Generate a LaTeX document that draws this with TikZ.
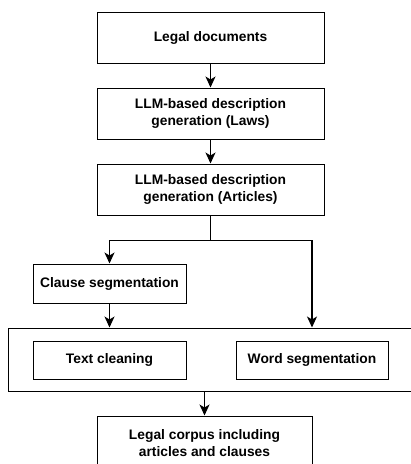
\documentclass[tikz,border=0pt]{standalone}
\usepackage{fontspec}
\setmainfont{Liberation Sans}
\usepackage{tikz}
\usetikzlibrary{arrows.meta,positioning}
\tikzstyle{block} = [draw,line width=1pt,inner sep=0pt,align=center,font=\bfseries\fontsize{13.8}{17.5}\selectfont]
\tikzstyle{flow} = [line width=1.4pt,-{Stealth[length=11pt,width=10pt,inset=3pt]}]

\begin{document}
\begin{tikzpicture}[x=1pt,y=-1pt]
			\useasboundingbox (0,0) rectangle (411,464);
			\clip (0,0) rectangle (411,464);
			
			\node[block,minimum width=227,minimum height=51] (docs) at (210.5,37.5) {Legal documents};
			\node[block,minimum width=227,minimum height=51] (laws) at (210.5,113.5) {LLM-based description\\generation (Laws)};
			\node[block,minimum width=227,minimum height=51] (arts) at (210.5,189.5) {LLM-based description\\generation (Articles)};
			\node[block,minimum width=153,minimum height=39] (clause) at (109.5,283.5) {Clause segmentation};
			
			% preprocessing group
			\node[block,minimum width=412,minimum height=63] (prep) at (214,359.5) {};
			\node[block,minimum width=153,minimum height=38] (clean) at (109.5,360) {Text cleaning};
			\node[block,minimum width=152,minimum height=38] (word) at (312,360) {Word segmentation};
			
			\node[block,minimum width=215,minimum height=54] (corpus) at (204.5,443) {Legal corpus including\\articles and clauses};
			
			\draw[flow] (docs) -- (laws);
			\draw[flow] (laws) -- (arts);
			\draw[flow] (arts.south) -- ++(0,25) coordinate (split) -| (clause.north);
			\draw[flow] (split) -| (word.north |- prep.north);
			\draw[flow] (clause.south) -- (clause.south |- prep.north);
			\draw[flow] (corpus.north |- prep.south) -- (corpus.north);
			
\end{tikzpicture}
\end{document}
